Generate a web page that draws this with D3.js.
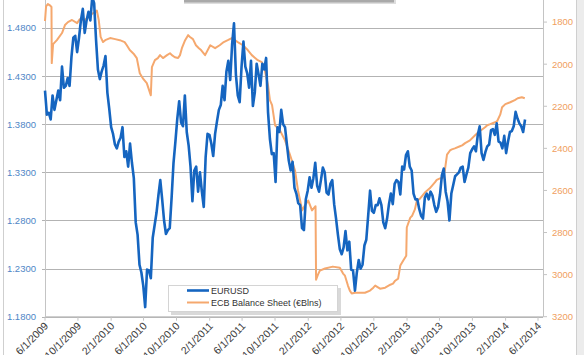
<!DOCTYPE html>
<html><head><meta charset="utf-8">
<script src="https://cdn.jsdelivr.net/npm/d3@7"></script>
<style>
body{margin:0;background:#fff;overflow:hidden;}
svg{display:block;font-family:"Liberation Sans",Arial,sans-serif;}
</style>
</head><body><svg id="c" width="584" height="355"></svg>
<script>
// ---- data ----
const eurStart = "2009-06-01"; // weekly observations (Mondays)
const eurusd = [
// 2009
1.415,1.390,1.392,1.385,1.410,1.395,1.405,1.415,1.405,1.440,1.418,1.420,1.428,1.420,1.450,1.470,1.472,1.455,1.470,1.488,1.500,1.475,1.488,1.497,1.488,1.512,1.506,1.468,1.437,1.427,1.435,
// 2010
1.441,1.451,1.413,1.396,1.377,1.370,1.359,1.355,1.362,1.366,1.377,1.346,1.352,1.336,1.360,1.340,1.324,1.278,1.265,1.234,1.226,1.212,1.190,1.229,1.228,1.220,1.262,1.275,1.288,1.306,1.322,1.302,1.280,1.266,1.270,1.272,1.304,1.340,1.362,1.386,1.404,1.382,1.378,1.410,1.372,1.358,1.336,1.300,1.332,1.336,1.310,1.330,
// 2011
1.310,1.294,1.346,1.370,1.369,1.360,1.347,1.370,1.383,1.395,1.400,1.420,1.405,1.435,1.446,1.426,1.463,1.485,1.432,1.410,1.403,1.440,1.466,1.440,1.433,1.418,1.446,1.399,1.413,1.443,1.432,1.420,1.443,1.437,1.449,1.393,1.365,1.349,1.350,1.320,1.377,1.372,1.395,1.380,1.377,1.359,1.342,1.332,1.341,1.314,1.308,1.298,
// 2012
1.296,1.272,1.270,1.302,1.311,1.325,1.314,1.324,1.340,1.316,1.310,1.322,1.335,1.330,1.309,1.307,1.318,1.322,1.297,1.282,1.265,1.250,1.245,1.252,1.269,1.249,1.258,1.229,1.228,1.207,1.226,1.239,1.230,1.234,1.254,1.260,1.285,1.311,1.290,1.288,1.296,1.296,1.303,1.296,1.278,1.272,1.282,1.297,1.308,1.297,1.318,1.322,1.320,
// 2013
1.307,1.336,1.333,1.348,1.352,1.336,1.332,1.308,1.302,1.302,1.292,1.285,1.282,1.304,1.308,1.302,1.310,1.306,1.296,1.289,1.294,1.307,1.327,1.334,1.310,1.300,1.280,1.308,1.317,1.326,1.328,1.330,1.335,1.336,1.320,1.328,1.335,1.350,1.354,1.357,1.352,1.369,1.378,1.350,1.343,1.351,1.357,1.359,1.374,1.375,1.369,1.381,
// 2014
1.362,1.361,1.355,1.368,1.350,1.362,1.372,1.373,1.378,1.393,1.386,1.381,1.378,1.372,1.385
];
const ecbDates = [
"2009-06-01","2009-06-05","2009-06-12","2009-06-19","2009-06-25","2009-06-26","2009-07-01","2009-07-15","2009-08-03","2009-08-14","2009-08-25","2009-09-09","2009-09-28","2009-10-08","2009-10-27","2009-11-15","2009-12-03","2009-12-10","2009-12-17","2009-12-24",
"2010-01-02","2010-01-10","2010-01-28","2010-02-16","2010-03-05","2010-03-23","2010-03-31","2010-04-11","2010-04-25","2010-05-07","2010-05-18","2010-05-31","2010-06-13","2010-06-28","2010-07-02","2010-07-13","2010-07-24","2010-08-01","2010-08-12","2010-08-27","2010-09-07","2010-09-14","2010-09-25","2010-10-07","2010-10-14","2010-10-21","2010-11-02","2010-11-13","2010-11-20","2010-12-01","2010-12-12","2010-12-23","2010-12-31",
"2011-01-15","2011-02-03","2011-02-21","2011-03-10","2011-03-25","2011-04-09","2011-04-24","2011-05-16","2011-06-04","2011-06-22","2011-07-07","2011-07-29","2011-08-13","2011-08-24","2011-09-05","2011-09-12","2011-09-20","2011-10-01","2011-10-19","2011-11-07","2011-11-26","2011-12-14","2011-12-25",
"2012-01-02","2012-01-09","2012-01-20","2012-02-01","2012-02-15","2012-02-28","2012-03-01","2012-03-08","2012-03-15","2012-04-03","2012-05-02","2012-05-28","2012-06-09","2012-06-16","2012-06-27","2012-07-04","2012-07-11","2012-07-23","2012-08-29","2012-09-17","2012-09-29","2012-10-06","2012-10-24","2012-11-12","2012-12-01","2012-12-11","2012-12-19","2012-12-30",
"2013-01-07","2013-01-18","2013-01-29","2013-01-31","2013-02-13","2013-02-20","2013-03-02","2013-03-09","2013-03-20","2013-04-08","2013-04-26","2013-05-15","2013-05-22","2013-06-03","2013-06-14","2013-06-21","2013-06-29","2013-07-10","2013-07-17","2013-07-28","2013-08-16","2013-08-24","2013-09-04","2013-09-22","2013-10-11","2013-10-22","2013-11-17","2013-11-25","2013-12-06","2013-12-24",
"2014-01-01","2014-01-12","2014-01-19","2014-01-31","2014-02-18","2014-03-07","2014-03-18","2014-04-02","2014-04-13"
];
const ecbValues = [
1795,1725,1714,1720,1728,1995,1905,1886,1852,1814,1800,1790,1805,1786,1790,1767,1752,1745,1790,1870,
1895,1886,1876,1881,1886,1895,1910,1933,1950,1971,2043,2070,2090,2148,2014,1981,1971,1957,1971,1957,1948,1957,1967,1971,1957,1924,1886,1862,1871,1881,1910,1924,1933,
1957,1910,1924,1910,1895,1886,1876,1895,1910,1933,1957,1981,1990,2029,2100,2171,2195,2290,2314,2362,2433,2505,2600,
2648,2695,2671,2648,2695,2675,3024,3000,2981,2971,2962,2967,2995,3005,3052,3076,3090,3086,3086,3076,3062,3052,3067,3062,3048,3043,3029,3019,
2957,2933,2910,2776,2729,2720,2690,2650,2640,2610,2590,2562,2550,2543,2540,2505,2430,2410,2405,2400,2390,2386,2375,2362,2338,2325,2300,2290,2285,2276,
2270,2240,2205,2190,2181,2171,2162,2157,2162
];
const xTickLabels = ["6/1/2009","10/1/2009","2/1/2010","6/1/2010","10/1/2010","2/1/2011","6/1/2011","10/1/2011","2/1/2012","6/1/2012","10/1/2012","2/1/2013","6/1/2013","10/1/2013","2/1/2014","6/1/2014"];
const leftTicks = [1.18,1.23,1.28,1.33,1.38,1.43,1.48];
const rightTicks = [1800,2000,2200,2400,2600,2800,3000,3200];
const seriesNames = ["EURUSD","ECB Balance Sheet (€Blns)"];
const colors = {eur:"#1565c0", ecb:"#f5a86e", grid:"#b3b3b3", axis:"#c4c4c4", leftTxt:"#4f86c6", rightTxt:"#f0a060", xTxt:"#3a3a3a"};

// ---- layout ----
const L = 45, R = 543, B = 316.7, T = -20;
const svg = d3.select("#c");
const parse = d3.timeParse("%Y-%m-%d");
const parseTick = d3.timeParse("%m/%d/%Y");
const x = d3.scaleTime().domain([parse("2009-06-01"), parse("2014-06-01")]).range([L, 538]);
const yL = d3.scaleLinear().domain([1.18, 1.53]).range([B, T]);
const yR = d3.scaleLinear().domain([3200, 1600]).range([B, T]);

// frame / decorations
svg.append("rect").attr("x",577).attr("y",0).attr("width",7).attr("height",355).attr("fill","#ececec");
svg.append("line").attr("x1",3.5).attr("x2",3.5).attr("y1",0).attr("y2",355).attr("stroke","#cfcfcf");
svg.append("line").attr("x1",576.5).attr("x2",576.5).attr("y1",0).attr("y2",355).attr("stroke","#cfcfcf");
svg.append("rect").attr("x",184).attr("y",0).attr("width",212).attr("height",4).attr("fill","#dedede");
svg.append("rect").attr("x",184).attr("y",0).attr("width",210).attr("height",2.5).attr("fill","#a9a9a9");

// gridlines
svg.append("g").selectAll("line").data(leftTicks.concat([1.53])).join("line")
  .attr("x1",L-3).attr("x2",R).attr("y1",d=>Math.round(yL(d))+0.5).attr("y2",d=>Math.round(yL(d))+0.5)
  .attr("stroke",colors.grid).attr("stroke-width",1);

// axes lines
svg.append("line").attr("x1",L+0.5).attr("x2",L+0.5).attr("y1",0).attr("y2",B).attr("stroke",colors.axis);
svg.append("line").attr("x1",R+0.5).attr("x2",R+0.5).attr("y1",0).attr("y2",B).attr("stroke",colors.axis);
svg.append("line").attr("x1",L).attr("x2",R).attr("y1",B).attr("y2",B).attr("stroke",colors.axis);

// left labels
svg.append("g").selectAll("text").data(leftTicks).join("text")
  .attr("x",36).attr("y",d=>yL(d)).attr("dy","0.35em").attr("text-anchor","end")
  .attr("font-size",9.5).attr("fill",colors.leftTxt).text(d=>d3.format(".4f")(d));

// right ticks + labels
const rg = svg.append("g");
rg.selectAll("line").data(rightTicks).join("line")
  .attr("x1",R).attr("x2",R+4).attr("y1",d=>yR(d)).attr("y2",d=>yR(d)).attr("stroke",colors.axis);
rg.selectAll("text").data(rightTicks).join("text")
  .attr("x",552).attr("y",d=>yR(d)).attr("dy","0.35em").attr("text-anchor","start")
  .attr("font-size",9.5).attr("fill",colors.rightTxt).text(d=>d);

// x ticks + labels
const xg = svg.append("g");
const tickDates = xTickLabels.map(s=>parseTick(s));
xg.selectAll("line").data(tickDates).join("line")
  .attr("x1",d=>x(d)).attr("x2",d=>x(d)).attr("y1",B).attr("y2",B+4).attr("stroke",colors.axis);
xg.selectAll("text").data(xTickLabels).join("text")
  .attr("transform",(d,i)=>`translate(${x(tickDates[i])+4},${B+10}) rotate(-45)`)
  .attr("text-anchor","end").attr("font-size",10.5).attr("fill",colors.xTxt).text(d=>d);

// series
const eurData = eurusd.map((v,i)=>({d:d3.timeDay.offset(parse(eurStart), 7*i), v}));
const ecbData = ecbDates.map((s,i)=>({d:parse(s), v:ecbValues[i]}));
svg.append("path").datum(ecbData)
  .attr("d", d3.line().x(p=>x(p.d)).y(p=>yR(p.v)))
  .attr("fill","none").attr("stroke",colors.ecb).attr("stroke-width",2).attr("stroke-linejoin","round");
svg.append("path").datum(eurData)
  .attr("d", d3.line().x(p=>x(p.d)).y(p=>yL(p.v)))
  .attr("fill","none").attr("stroke",colors.eur).attr("stroke-width",2.6).attr("stroke-linejoin","round");

// legend
const lg = svg.append("g");
lg.append("rect").attr("x",171).attr("y",288).attr("width",170).attr("height",27).attr("fill","#d9d9d9");
lg.append("rect").attr("x",168.5).attr("y",285.5).attr("width",169).attr("height",26).attr("fill","#fff").attr("stroke","#d4d4d4");
const items = [{n:seriesNames[0], c:colors.eur, w:2.6, y:290.5},{n:seriesNames[1], c:colors.ecb, w:2, y:302.5}];
items.forEach(it=>{
  lg.append("line").attr("x1",187).attr("x2",209).attr("y1",it.y).attr("y2",it.y).attr("stroke",it.c).attr("stroke-width",it.w);
  lg.append("text").attr("x",211).attr("y",it.y).attr("dy","0.35em").attr("font-size",9).attr("fill","#333").text(it.n);
});
</script>
</body></html>
